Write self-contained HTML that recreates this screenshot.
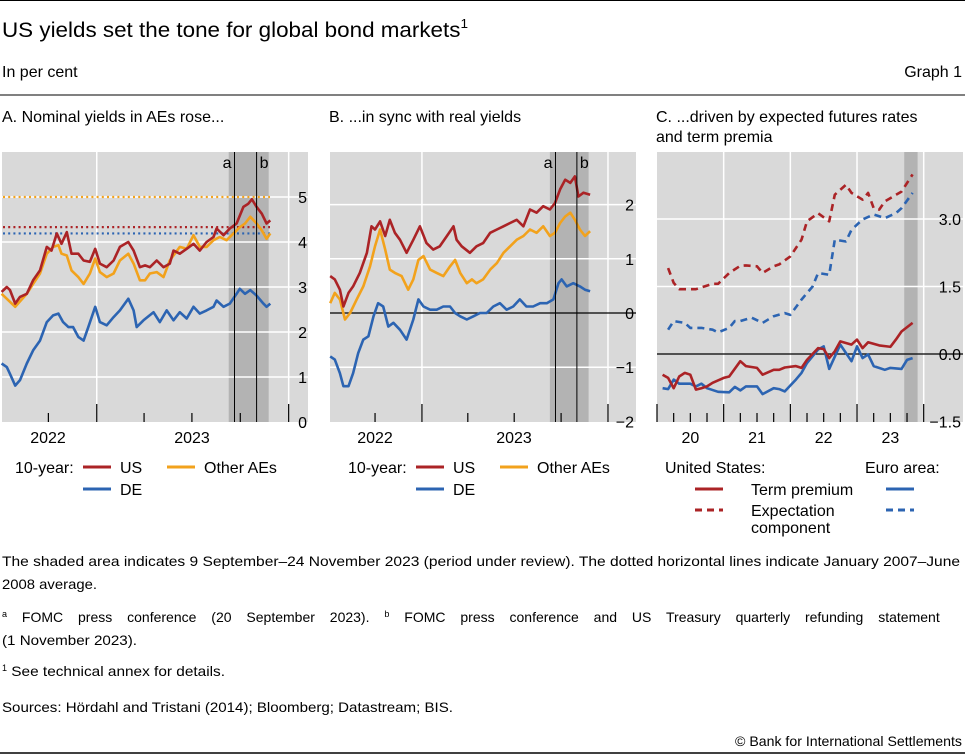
<!DOCTYPE html>
<html><head><meta charset="utf-8"><style>
html,body{margin:0;padding:0;background:#fff}
svg{display:block}
text{font-family:"Liberation Sans",sans-serif;fill:#000}
</style></head><body>
<svg id="chart" width="965" height="755" viewBox="0 0 965 755" xmlns="http://www.w3.org/2000/svg">
<line x1="0" y1="0.5" x2="965" y2="0.5" stroke="#000" stroke-width="1"/>
<text x="2" y="37" font-size="21.5" textLength="466" lengthAdjust="spacingAndGlyphs">US yields set the tone for global bond markets<tspan font-size="13" dy="-9">1</tspan></text>
<text x="2" y="77" font-size="16">In per cent</text>
<text x="962" y="77" font-size="16" text-anchor="end">Graph 1</text>
<line x1="0" y1="95" x2="965" y2="95" stroke="#000" stroke-width="1"/>
<text x="2" y="122" font-size="16">A. Nominal yields in AEs rose...</text>
<text x="329" y="122" font-size="16">B. ...in sync with real yields</text>
<text x="656" y="122" font-size="16">C. ...driven by expected futures rates</text>
<text x="656" y="142" font-size="16">and term premia</text>
<g id="pA"></g>
<g id="pB"></g>
<g id="pC"></g>
<g id="leg"></g>
<g font-size="14">
<text x="2" y="566" textLength="958" lengthAdjust="spacingAndGlyphs">The shaded area indicates 9 September–24 November 2023 (period under review). The dotted horizontal lines indicate January 2007–June</text>
<text x="2" y="589" textLength="95" lengthAdjust="spacingAndGlyphs">2008 average.</text>
<text x="2" y="622" word-spacing="11"><tspan font-size="9" dy="-5">a</tspan><tspan dy="5"> FOMC press conference (20 September 2023). </tspan><tspan font-size="9" dy="-5">b</tspan><tspan dy="5"> FOMC press conference and US Treasury quarterly refunding statement</tspan></text>
<text x="2" y="645" textLength="135" lengthAdjust="spacingAndGlyphs">(1 November 2023).</text>
<text x="2" y="676"><tspan font-size="9" dy="-5">1</tspan><tspan dy="5" textLength="218" lengthAdjust="spacingAndGlyphs">  See technical annex for details.</tspan></text>
<text x="2" y="712" textLength="451" lengthAdjust="spacingAndGlyphs">Sources: Hördahl and Tristani (2014); Bloomberg; Datastream; BIS.</text>
<text x="962" y="746" text-anchor="end" textLength="227" lengthAdjust="spacingAndGlyphs">© Bank for International Settlements</text>
</g>
<line x1="0" y1="753" x2="965" y2="753" stroke="#000" stroke-width="1.5"/>
</svg>
<script>
// ---- Panel A data (days since 1 Jul 2022, per cent) ----
const aUsDays=[3,13,19,29,38,51,63,76,89,98,108,117,127,136,149,159,171,181,190,203,216,228,244,254,266,276,285,298,311,323,330,342,355,368,380,393,406,412,425,437,450,463,472,479,488,498,507,514];
const aUsVals=[2.89,3.00,2.93,2.63,2.78,2.85,3.15,3.37,3.89,3.81,4.19,3.96,4.22,3.74,3.74,3.59,3.56,3.85,3.52,3.44,3.59,3.89,4.00,3.81,3.44,3.48,3.44,3.59,3.44,3.52,3.81,3.74,3.85,3.96,3.81,4.00,4.11,4.30,4.15,4.30,4.41,4.78,4.85,4.95,4.78,4.63,4.41,4.48];
const aOthDays=[3,29,51,63,76,89,101,111,117,127,136,149,159,171,181,190,203,216,228,244,254,266,276,285,298,311,323,342,355,368,380,393,406,418,431,444,456,466,476,488,498,507,514];
const aOthVals=[2.85,2.56,2.85,3.07,3.30,3.74,3.89,3.93,3.74,3.70,3.37,3.22,3.07,3.30,3.63,3.33,3.22,3.30,3.59,3.74,3.52,3.15,3.15,3.30,3.33,3.22,3.59,3.89,3.85,4.15,3.89,3.89,4.04,4.11,4.04,4.19,4.33,4.41,4.56,4.41,4.26,4.07,4.19];
const aDeDays=[3,13,19,29,38,51,63,76,89,101,111,120,130,139,149,159,168,181,190,203,216,228,244,254,260,273,292,304,317,330,342,355,368,380,393,406,412,425,437,450,456,466,476,488,501,507,514];
const aDeVals=[1.30,1.22,1.07,0.81,0.93,1.30,1.59,1.81,2.22,2.37,2.41,2.22,2.11,2.11,1.89,1.81,2.11,2.56,2.22,2.15,2.33,2.48,2.74,2.48,2.11,2.26,2.44,2.22,2.48,2.26,2.44,2.30,2.56,2.41,2.48,2.56,2.70,2.56,2.63,2.85,2.96,2.85,2.93,2.81,2.63,2.56,2.63];
const aAvg=[4.33,5.0,4.19]; // US, Other AEs, DE 2007-08 averages
const aTicks=[0,1,2,3,4,5];
// ---- Panel B data ----
const bUsDays=[4,13,23,30,40,49,62,76,85,92,102,112,121,131,141,154,167,180,193,206,219,233,246,252,262,278,291,304,318,331,344,357,370,383,396,409,422,435,445,455,465,475,484,491,501,514];
const bUsVals=[0.68,0.62,0.43,0.12,0.37,0.49,0.74,1.11,1.60,1.54,1.69,1.42,1.72,1.48,1.35,1.11,1.35,1.60,1.29,1.17,1.23,1.42,1.60,1.35,1.23,1.11,1.23,1.29,1.48,1.54,1.60,1.66,1.72,1.60,1.91,1.85,1.97,1.91,2.03,2.28,2.46,2.40,2.52,2.15,2.22,2.18];
const bOthDays=[4,13,23,33,43,56,69,82,92,102,112,121,131,144,157,167,177,187,200,213,226,239,249,259,272,282,291,304,318,331,344,357,370,383,396,409,422,435,445,455,465,475,484,494,504,514];
const bOthVals=[0.18,0.37,0.25,-0.12,0.00,0.25,0.49,0.86,1.23,1.54,1.17,0.80,0.74,0.68,0.43,0.62,0.98,1.05,0.80,0.74,0.68,0.86,0.98,0.74,0.55,0.62,0.55,0.62,0.80,0.92,1.11,1.23,1.35,1.42,1.54,1.48,1.60,1.42,1.48,1.66,1.78,1.85,1.72,1.54,1.42,1.51];
const bDeDays=[4,13,23,30,40,49,59,69,79,89,98,108,118,128,141,154,167,177,187,200,213,226,239,249,259,272,285,298,311,324,337,350,363,376,389,402,416,429,442,452,458,468,481,494,504,514];
const bDeVals=[-0.80,-0.86,-1.11,-1.35,-1.35,-1.11,-0.74,-0.49,-0.43,-0.06,0.18,0.12,-0.25,-0.18,-0.31,-0.49,-0.12,0.25,0.12,0.06,0.06,0.12,0.12,0.00,-0.06,-0.12,-0.06,0.00,0.00,0.12,0.18,0.06,0.12,0.25,0.12,0.12,0.18,0.18,0.25,0.55,0.62,0.49,0.55,0.49,0.43,0.40];
const bTicks=[-2,-1,0,1,2];
// ---- Panel C data (months since Jan 2020) ----
const cUsExpM=[2,3,4,7,10,11,13,15,16,18,19,21,22,24,26,27,29,31,32,34,35,37,38,39,40,41,44,46];
const cUsExpV=[1.91,1.58,1.44,1.44,1.56,1.56,1.80,1.96,1.97,1.95,1.80,1.95,1.99,2.17,2.54,2.95,3.13,2.95,3.54,3.76,3.58,3.43,3.58,3.24,3.21,3.39,3.61,3.99];
const cEaExpM=[2,3,5,6,8,10,11,13,14,15,17,19,21,23,24,26,28,29,31,32,34,35,37,39,41,43,44,46];
const cEaExpV=[0.54,0.73,0.69,0.58,0.58,0.54,0.48,0.58,0.73,0.73,0.81,0.69,0.84,0.91,0.87,1.21,1.50,1.80,1.76,2.54,2.50,2.76,2.99,3.10,3.02,3.13,3.24,3.58];
const cUsTpM=[1,2,3,4,5,6,7,8,9,10,12,13,15,16,18,19,21,22,23,25,26,27,29,30,31,32,33,35,36,37,38,40,42,43,44,46];
const cUsTpV=[-0.46,-0.53,-0.76,-0.50,-0.42,-0.46,-0.79,-0.76,-0.72,-0.64,-0.53,-0.50,-0.16,-0.27,-0.31,-0.46,-0.35,-0.35,-0.30,-0.27,-0.31,-0.13,0.13,0.11,-0.09,0.06,0.28,0.21,0.32,0.13,0.26,0.19,0.16,0.32,0.50,0.69];
const cEaTpM=[1,2,3,4,6,7,8,9,11,13,14,15,16,18,19,21,22,23,25,26,27,29,30,31,33,35,36,37,38,39,41,42,44,45,46];
const cEaTpV=[-0.76,-0.78,-0.57,-0.66,-0.66,-0.72,-0.66,-0.76,-0.84,-0.85,-0.73,-0.81,-0.72,-0.72,-0.89,-0.76,-0.78,-0.83,-0.57,-0.42,-0.20,0.10,0.17,-0.33,0.21,-0.16,0.17,-0.09,-0.01,-0.27,-0.35,-0.31,-0.33,-0.13,-0.09];
const cTicks=[-1.5,0,1.5,3];
const cTickLabels=["−1.5","0.0","1.5","3.0"];
const cYears=["20","21","22","23"];

const NS="http://www.w3.org/2000/svg";
const RED="#ab2326",ORANGE="#f2a21c",BLUE="#2c64b2",BG="#d9d9d9",SHADE="#b3b3b3";
function mk(parent,tag,attrs,name){const e=document.createElementNS(NS,tag);for(const k in attrs)e.setAttribute(k,attrs[k]);


parent.appendChild(e);return e;}
function txt(parent,x,y,s,anchor,name,size){const t=mk(parent,'text',{x:x,y:y,'font-size':size||16,'text-anchor':anchor||'start'},name);t.textContent=s;return t;}
function series(parent,xs,vs,fx,fy,color,name,dash){let d='';for(let i=0;i<xs.length;i++)d+=(i?'L':'M')+fx(xs[i]).toFixed(1)+' '+fy(vs[i]).toFixed(1);
const a={d:d,fill:'none',stroke:color,'stroke-width':2.6,'stroke-linejoin':'round'};if(dash)a['stroke-dasharray']=dash;mk(parent,'path',a,name);}

const TOP=152,BOT=422;
// ---------- Panel A ----------
(function(){const g=document.getElementById('pA');
const fx=d=>d*0.5258, fy=v=>422-v*45;
mk(g,'rect',{x:2,y:TOP,width:306,height:BOT-TOP,fill:BG},'plot-background');
mk(g,'rect',{x:fx(435),y:TOP,width:fx(511)-fx(435),height:BOT-TOP,fill:SHADE},'review-period-shade');
aTicks.forEach(t=>{if(t>0)mk(g,'line',{x1:2,x2:308,y1:fy(t),y2:fy(t),stroke:'#fff','stroke-width':1.5},'gridline-y');});
[184,549].forEach(d=>mk(g,'line',{x1:fx(d),x2:fx(d),y1:TOP,y2:BOT,stroke:'#fff','stroke-width':1.5},'gridline-x'));
[[aAvg[1],ORANGE],[aAvg[0],RED],[aAvg[2],BLUE]].forEach(p=>mk(g,'line',{x1:3,x2:270,y1:fy(p[0]),y2:fy(p[0]),stroke:p[1],'stroke-width':2.2,'stroke-dasharray':'2 3.2'},'average-line'));
series(g,aDeDays,aDeVals,fx,fy,BLUE,'series-de');
series(g,aOthDays,aOthVals,fx,fy,ORANGE,'series-other-aes');
series(g,aUsDays,aUsVals,fx,fy,RED,'series-us');
mk(g,'line',{x1:fx(446),x2:fx(446),y1:TOP,y2:BOT,stroke:'#000','stroke-width':1},'event-line-a');
mk(g,'line',{x1:fx(488),x2:fx(488),y1:TOP,y2:BOT,stroke:'#000','stroke-width':1},'event-line-b');
txt(g,fx(446)-3,168,'a','end','event-label-a');txt(g,fx(488)+3,168,'b','start','event-label-b');
[[92,0],[184,1],[274,0],[365,0],[457,0],[549,1]].forEach(t=>mk(g,'line',{x1:fx(t[0]),x2:fx(t[0]),y1:t[1]?404:413,y2:BOT,stroke:'#000','stroke-width':1.2},'x-tick'));
aTicks.forEach(t=>txt(g,307,fy(t)+6,String(t),'end','y-tick-label'));
txt(g,48,443,'2022','middle','x-label-2022');txt(g,192,443,'2023','middle','x-label-2023');
})();
// ---------- Panel B ----------
(function(){const g=document.getElementById('pB');
const fx=d=>320+(d+16)*0.5097, fy=v=>313-v*54.2;
mk(g,'rect',{x:330,y:TOP,width:306,height:BOT-TOP,fill:BG},'plot-background');
mk(g,'rect',{x:fx(435),y:TOP,width:fx(511)-fx(435),height:BOT-TOP,fill:SHADE},'review-period-shade');
bTicks.forEach(t=>{if(t>-2&&t!==0)mk(g,'line',{x1:330,x2:636,y1:fy(t),y2:fy(t),stroke:'#fff','stroke-width':1.5},'gridline-y');});
[184,549].forEach(d=>mk(g,'line',{x1:fx(d),x2:fx(d),y1:TOP,y2:BOT,stroke:'#fff','stroke-width':1.5},'gridline-x'));
mk(g,'line',{x1:330,x2:636,y1:fy(0),y2:fy(0),stroke:'#000','stroke-width':1.2},'zero-line');
series(g,bDeDays,bDeVals,fx,fy,BLUE,'series-de');
series(g,bOthDays,bOthVals,fx,fy,ORANGE,'series-other-aes');
series(g,bUsDays,bUsVals,fx,fy,RED,'series-us');
mk(g,'line',{x1:fx(446),x2:fx(446),y1:TOP,y2:BOT,stroke:'#000','stroke-width':1},'event-line-a');
mk(g,'line',{x1:fx(488),x2:fx(488),y1:TOP,y2:BOT,stroke:'#000','stroke-width':1},'event-line-b');
txt(g,fx(446)-3,168,'a','end','event-label-a');txt(g,fx(488)+3,168,'b','start','event-label-b');
[[92,0],[184,1],[274,0],[365,0],[457,0],[549,1]].forEach(t=>mk(g,'line',{x1:fx(t[0]),x2:fx(t[0]),y1:t[1]?404:413,y2:BOT,stroke:'#000','stroke-width':1.2},'x-tick'));
bTicks.forEach(t=>txt(g,634,fy(t)+6,t<0?'−'+(-t):String(t),'end','y-tick-label'));
txt(g,375,443,'2022','middle','x-label-2022');txt(g,514,443,'2023','middle','x-label-2023');
})();
// ---------- Panel C ----------
(function(){const g=document.getElementById('pC');
const fx=m=>657+m*5.556, fy=v=>354-v*45;
mk(g,'rect',{x:657,y:TOP,width:306,height:BOT-TOP,fill:BG},'plot-background');
mk(g,'rect',{x:fx(44.5),y:TOP,width:fx(46.9)-fx(44.5),height:BOT-TOP,fill:SHADE},'review-period-shade');
cTicks.forEach(t=>{if(t>-1.5&&t!==0)mk(g,'line',{x1:657,x2:963,y1:fy(t),y2:fy(t),stroke:'#fff','stroke-width':1.5},'gridline-y');});
[12,24,36,48].forEach(m=>mk(g,'line',{x1:fx(m),x2:fx(m),y1:TOP,y2:BOT,stroke:'#fff','stroke-width':1.5},'gridline-x'));
mk(g,'line',{x1:657,x2:963,y1:fy(0),y2:fy(0),stroke:'#000','stroke-width':1.2},'zero-line');
series(g,cEaExpM,cEaExpV,fx,fy,BLUE,'series-ea-expectation','7 5');
series(g,cUsExpM,cUsExpV,fx,fy,RED,'series-us-expectation','7 5');
series(g,cEaTpM,cEaTpV,fx,fy,BLUE,'series-ea-term-premium');
series(g,cUsTpM,cUsTpV,fx,fy,RED,'series-us-term-premium');
for(let m=0;m<=48;m+=3)mk(g,'line',{x1:fx(m),x2:fx(m),y1:m%12===0?404:413,y2:BOT,stroke:'#000','stroke-width':1.2},'x-tick');
cTicks.forEach((t,i)=>txt(g,961,fy(t)+6,cTickLabels[i],'end','y-tick-label'));
cYears.forEach((y,i)=>txt(g,fx(i*12+6),443,y,'middle','x-label'));
})();
// ---------- Legends ----------
(function(){const g=document.getElementById('leg');
function sw(x,y,c,name,dash){const a={x1:x,x2:x+28,y1:y,y2:y,stroke:c,'stroke-width':3};if(dash)a['stroke-dasharray']='7 5';mk(g,'line',a,name);}
[[15,0],[348,1]].forEach(p=>{const x=p[0];
txt(g,x,473,'10-year:','start','legend-title');
sw(x+68,467,RED,'legend-us-swatch');txt(g,x+105,473,'US','start','legend-us');
sw(x+152,467,ORANGE,'legend-other-swatch');txt(g,x+189,473,'Other AEs','start','legend-other-aes');
sw(x+68,489,BLUE,'legend-de-swatch');txt(g,x+105,495,'DE','start','legend-de');});
txt(g,665,473,'United States:','start','legend-us-title');
txt(g,865,473,'Euro area:','start','legend-ea-title');
sw(695,489,RED,'legend-us-tp-swatch');sw(886,489,BLUE,'legend-ea-tp-swatch');
txt(g,751,495,'Term premium','start','legend-term-premium');
sw(695,510,RED,'legend-us-exp-swatch',1);sw(886,510,BLUE,'legend-ea-exp-swatch',1);
txt(g,751,516,'Expectation','start','legend-expectation');
txt(g,751,533,'component','start','legend-component');
})();
</script>
</body></html>
